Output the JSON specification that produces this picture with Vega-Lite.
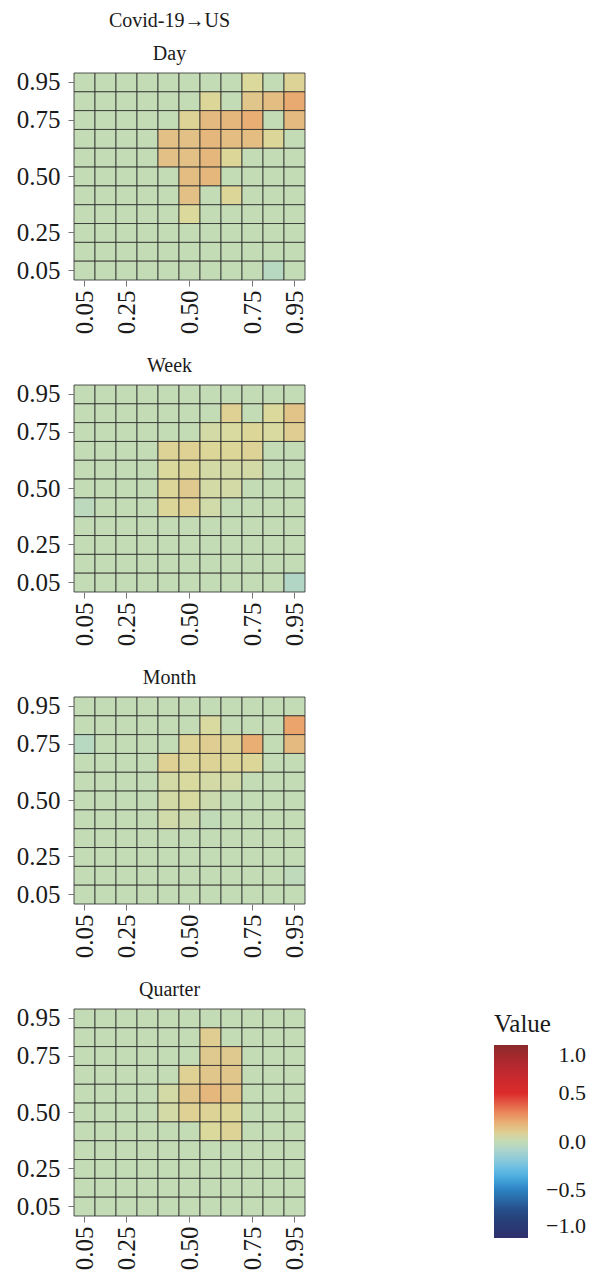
{
"$schema": "https://vega.github.io/schema/vega-lite/v6.json",
"padding": {"left": 16, "top": 10, "right": 0, "bottom": 0},
"config": {
 "font": "Liberation Serif",
 "view": {"stroke": null},
 "axis": {"labelFont": "Liberation Serif", "labelFontSize": 25, "labelColor": "#1a1a1a", "tickColor": "#777", "tickSize": 6, "tickWidth": 1, "domain": false, "grid": false, "title": null},
 "axisX": {"labelPadding": 4},
 "axisY": {"labelPadding": 8},
 "title": {"font": "Liberation Serif", "fontSize": 20, "fontWeight": "normal", "color": "#1a1a1a", "anchor": "middle", "dx": -20, "offset": 6, "subtitleFont": "Liberation Serif", "subtitleFontSize": 20, "subtitleColor": "#1a1a1a", "subtitlePadding": 13},
 "concat": {"spacing": 21}
},
"datasets": {
"day": [
{"x":0.05,"y":0.95,"v":0},{"x":0.15,"y":0.95,"v":0},{"x":0.25,"y":0.95,"v":0},{"x":0.33,"y":0.95,"v":0},{"x":0.42,"y":0.95,"v":0},{"x":0.5,"y":0.95,"v":0},{"x":0.58,"y":0.95,"v":0},{"x":0.67,"y":0.95,"v":0},{"x":0.75,"y":0.95,"v":0.06},{"x":0.85,"y":0.95,"v":0},{"x":0.95,"y":0.95,"v":0.08},
{"x":0.05,"y":0.85,"v":0},{"x":0.15,"y":0.85,"v":0},{"x":0.25,"y":0.85,"v":0},{"x":0.33,"y":0.85,"v":0},{"x":0.42,"y":0.85,"v":0},{"x":0.5,"y":0.85,"v":0},{"x":0.58,"y":0.85,"v":0.07},{"x":0.67,"y":0.85,"v":0},{"x":0.75,"y":0.85,"v":0.12},{"x":0.85,"y":0.85,"v":0.15},{"x":0.95,"y":0.85,"v":0.21},
{"x":0.05,"y":0.75,"v":0},{"x":0.15,"y":0.75,"v":0},{"x":0.25,"y":0.75,"v":0},{"x":0.33,"y":0.75,"v":0},{"x":0.42,"y":0.75,"v":0},{"x":0.5,"y":0.75,"v":0.08},{"x":0.58,"y":0.75,"v":0.16},{"x":0.67,"y":0.75,"v":0.17},{"x":0.75,"y":0.75,"v":0.2},{"x":0.85,"y":0.75,"v":0},{"x":0.95,"y":0.75,"v":0.16},
{"x":0.05,"y":0.67,"v":0},{"x":0.15,"y":0.67,"v":0},{"x":0.25,"y":0.67,"v":0},{"x":0.33,"y":0.67,"v":0},{"x":0.42,"y":0.67,"v":0.14},{"x":0.5,"y":0.67,"v":0.14},{"x":0.58,"y":0.67,"v":0.17},{"x":0.67,"y":0.67,"v":0.15},{"x":0.75,"y":0.67,"v":0.15},{"x":0.85,"y":0.67,"v":0.07},{"x":0.95,"y":0.67,"v":0},
{"x":0.05,"y":0.58,"v":0},{"x":0.15,"y":0.58,"v":0},{"x":0.25,"y":0.58,"v":0},{"x":0.33,"y":0.58,"v":0},{"x":0.42,"y":0.58,"v":0.14},{"x":0.5,"y":0.58,"v":0.14},{"x":0.58,"y":0.58,"v":0.17},{"x":0.67,"y":0.58,"v":0.07},{"x":0.75,"y":0.58,"v":0},{"x":0.85,"y":0.58,"v":0},{"x":0.95,"y":0.58,"v":0},
{"x":0.05,"y":0.5,"v":0},{"x":0.15,"y":0.5,"v":0},{"x":0.25,"y":0.5,"v":0},{"x":0.33,"y":0.5,"v":0},{"x":0.42,"y":0.5,"v":0},{"x":0.5,"y":0.5,"v":0.15},{"x":0.58,"y":0.5,"v":0.17},{"x":0.67,"y":0.5,"v":0},{"x":0.75,"y":0.5,"v":0},{"x":0.85,"y":0.5,"v":0},{"x":0.95,"y":0.5,"v":0},
{"x":0.05,"y":0.42,"v":0},{"x":0.15,"y":0.42,"v":0},{"x":0.25,"y":0.42,"v":0},{"x":0.33,"y":0.42,"v":0},{"x":0.42,"y":0.42,"v":0},{"x":0.5,"y":0.42,"v":0.14},{"x":0.58,"y":0.42,"v":0},{"x":0.67,"y":0.42,"v":0.07},{"x":0.75,"y":0.42,"v":0},{"x":0.85,"y":0.42,"v":0},{"x":0.95,"y":0.42,"v":0},
{"x":0.05,"y":0.33,"v":0},{"x":0.15,"y":0.33,"v":0},{"x":0.25,"y":0.33,"v":0},{"x":0.33,"y":0.33,"v":0},{"x":0.42,"y":0.33,"v":0},{"x":0.5,"y":0.33,"v":0.06},{"x":0.58,"y":0.33,"v":0},{"x":0.67,"y":0.33,"v":0},{"x":0.75,"y":0.33,"v":0},{"x":0.85,"y":0.33,"v":0},{"x":0.95,"y":0.33,"v":0},
{"x":0.05,"y":0.25,"v":0},{"x":0.15,"y":0.25,"v":0},{"x":0.25,"y":0.25,"v":0},{"x":0.33,"y":0.25,"v":0},{"x":0.42,"y":0.25,"v":0},{"x":0.5,"y":0.25,"v":0},{"x":0.58,"y":0.25,"v":0},{"x":0.67,"y":0.25,"v":0},{"x":0.75,"y":0.25,"v":0},{"x":0.85,"y":0.25,"v":0},{"x":0.95,"y":0.25,"v":0},
{"x":0.05,"y":0.15,"v":0},{"x":0.15,"y":0.15,"v":0},{"x":0.25,"y":0.15,"v":0},{"x":0.33,"y":0.15,"v":0},{"x":0.42,"y":0.15,"v":0},{"x":0.5,"y":0.15,"v":0},{"x":0.58,"y":0.15,"v":0},{"x":0.67,"y":0.15,"v":0},{"x":0.75,"y":0.15,"v":0},{"x":0.85,"y":0.15,"v":0},{"x":0.95,"y":0.15,"v":0},
{"x":0.05,"y":0.05,"v":0},{"x":0.15,"y":0.05,"v":0},{"x":0.25,"y":0.05,"v":0},{"x":0.33,"y":0.05,"v":0},{"x":0.42,"y":0.05,"v":0},{"x":0.5,"y":0.05,"v":0},{"x":0.58,"y":0.05,"v":0},{"x":0.67,"y":0.05,"v":0},{"x":0.75,"y":0.05,"v":0},{"x":0.85,"y":0.05,"v":-0.05},{"x":0.95,"y":0.05,"v":0}
],
"week": [
{"x":0.05,"y":0.95,"v":0},{"x":0.15,"y":0.95,"v":0},{"x":0.25,"y":0.95,"v":0},{"x":0.33,"y":0.95,"v":0},{"x":0.42,"y":0.95,"v":0},{"x":0.5,"y":0.95,"v":0},{"x":0.58,"y":0.95,"v":0},{"x":0.67,"y":0.95,"v":0},{"x":0.75,"y":0.95,"v":0},{"x":0.85,"y":0.95,"v":0},{"x":0.95,"y":0.95,"v":0},
{"x":0.05,"y":0.85,"v":0},{"x":0.15,"y":0.85,"v":0},{"x":0.25,"y":0.85,"v":0},{"x":0.33,"y":0.85,"v":0},{"x":0.42,"y":0.85,"v":0},{"x":0.5,"y":0.85,"v":0},{"x":0.58,"y":0.85,"v":0},{"x":0.67,"y":0.85,"v":0.09},{"x":0.75,"y":0.85,"v":0},{"x":0.85,"y":0.85,"v":0.06},{"x":0.95,"y":0.85,"v":0.13},
{"x":0.05,"y":0.75,"v":0},{"x":0.15,"y":0.75,"v":0},{"x":0.25,"y":0.75,"v":0},{"x":0.33,"y":0.75,"v":0},{"x":0.42,"y":0.75,"v":0},{"x":0.5,"y":0.75,"v":0},{"x":0.58,"y":0.75,"v":0.04},{"x":0.67,"y":0.75,"v":0.05},{"x":0.75,"y":0.75,"v":0.07},{"x":0.85,"y":0.75,"v":0.05},{"x":0.95,"y":0.75,"v":0.1},
{"x":0.05,"y":0.67,"v":0},{"x":0.15,"y":0.67,"v":0},{"x":0.25,"y":0.67,"v":0},{"x":0.33,"y":0.67,"v":0},{"x":0.42,"y":0.67,"v":0.08},{"x":0.5,"y":0.67,"v":0.09},{"x":0.58,"y":0.67,"v":0.07},{"x":0.67,"y":0.67,"v":0.07},{"x":0.75,"y":0.67,"v":0.08},{"x":0.85,"y":0.67,"v":0},{"x":0.95,"y":0.67,"v":0},
{"x":0.05,"y":0.58,"v":0},{"x":0.15,"y":0.58,"v":0},{"x":0.25,"y":0.58,"v":0},{"x":0.33,"y":0.58,"v":0},{"x":0.42,"y":0.58,"v":0.06},{"x":0.5,"y":0.58,"v":0.07},{"x":0.58,"y":0.58,"v":0.04},{"x":0.67,"y":0.58,"v":0.04},{"x":0.75,"y":0.58,"v":0.04},{"x":0.85,"y":0.58,"v":0},{"x":0.95,"y":0.58,"v":0},
{"x":0.05,"y":0.5,"v":0},{"x":0.15,"y":0.5,"v":0},{"x":0.25,"y":0.5,"v":0},{"x":0.33,"y":0.5,"v":0},{"x":0.42,"y":0.5,"v":0.07},{"x":0.5,"y":0.5,"v":0.11},{"x":0.58,"y":0.5,"v":0.04},{"x":0.67,"y":0.5,"v":0.04},{"x":0.75,"y":0.5,"v":0},{"x":0.85,"y":0.5,"v":0},{"x":0.95,"y":0.5,"v":0},
{"x":0.05,"y":0.42,"v":-0.03},{"x":0.15,"y":0.42,"v":0},{"x":0.25,"y":0.42,"v":0},{"x":0.33,"y":0.42,"v":0},{"x":0.42,"y":0.42,"v":0.07},{"x":0.5,"y":0.42,"v":0.09},{"x":0.58,"y":0.42,"v":0.03},{"x":0.67,"y":0.42,"v":0},{"x":0.75,"y":0.42,"v":0},{"x":0.85,"y":0.42,"v":0},{"x":0.95,"y":0.42,"v":0},
{"x":0.05,"y":0.33,"v":0},{"x":0.15,"y":0.33,"v":0},{"x":0.25,"y":0.33,"v":0},{"x":0.33,"y":0.33,"v":0},{"x":0.42,"y":0.33,"v":0},{"x":0.5,"y":0.33,"v":0},{"x":0.58,"y":0.33,"v":0},{"x":0.67,"y":0.33,"v":0},{"x":0.75,"y":0.33,"v":0},{"x":0.85,"y":0.33,"v":0},{"x":0.95,"y":0.33,"v":0},
{"x":0.05,"y":0.25,"v":0},{"x":0.15,"y":0.25,"v":0},{"x":0.25,"y":0.25,"v":0},{"x":0.33,"y":0.25,"v":0},{"x":0.42,"y":0.25,"v":0},{"x":0.5,"y":0.25,"v":0},{"x":0.58,"y":0.25,"v":0},{"x":0.67,"y":0.25,"v":0},{"x":0.75,"y":0.25,"v":0},{"x":0.85,"y":0.25,"v":0},{"x":0.95,"y":0.25,"v":0},
{"x":0.05,"y":0.15,"v":0},{"x":0.15,"y":0.15,"v":0},{"x":0.25,"y":0.15,"v":0},{"x":0.33,"y":0.15,"v":0},{"x":0.42,"y":0.15,"v":0},{"x":0.5,"y":0.15,"v":0},{"x":0.58,"y":0.15,"v":0},{"x":0.67,"y":0.15,"v":0},{"x":0.75,"y":0.15,"v":0},{"x":0.85,"y":0.15,"v":0},{"x":0.95,"y":0.15,"v":0},
{"x":0.05,"y":0.05,"v":0},{"x":0.15,"y":0.05,"v":0},{"x":0.25,"y":0.05,"v":0},{"x":0.33,"y":0.05,"v":0},{"x":0.42,"y":0.05,"v":0},{"x":0.5,"y":0.05,"v":0},{"x":0.58,"y":0.05,"v":0},{"x":0.67,"y":0.05,"v":0},{"x":0.75,"y":0.05,"v":0},{"x":0.85,"y":0.05,"v":0},{"x":0.95,"y":0.05,"v":-0.07}
],
"month": [
{"x":0.05,"y":0.95,"v":0},{"x":0.15,"y":0.95,"v":0},{"x":0.25,"y":0.95,"v":0},{"x":0.33,"y":0.95,"v":0},{"x":0.42,"y":0.95,"v":0},{"x":0.5,"y":0.95,"v":0},{"x":0.58,"y":0.95,"v":0},{"x":0.67,"y":0.95,"v":0},{"x":0.75,"y":0.95,"v":0},{"x":0.85,"y":0.95,"v":0},{"x":0.95,"y":0.95,"v":0},
{"x":0.05,"y":0.85,"v":0},{"x":0.15,"y":0.85,"v":0},{"x":0.25,"y":0.85,"v":0},{"x":0.33,"y":0.85,"v":0},{"x":0.42,"y":0.85,"v":0},{"x":0.5,"y":0.85,"v":0},{"x":0.58,"y":0.85,"v":0.05},{"x":0.67,"y":0.85,"v":0},{"x":0.75,"y":0.85,"v":0},{"x":0.85,"y":0.85,"v":0},{"x":0.95,"y":0.85,"v":0.23},
{"x":0.05,"y":0.75,"v":-0.05},{"x":0.15,"y":0.75,"v":0},{"x":0.25,"y":0.75,"v":0},{"x":0.33,"y":0.75,"v":0},{"x":0.42,"y":0.75,"v":0},{"x":0.5,"y":0.75,"v":0.08},{"x":0.58,"y":0.75,"v":0.1},{"x":0.67,"y":0.75,"v":0.08},{"x":0.75,"y":0.75,"v":0.2},{"x":0.85,"y":0.75,"v":0},{"x":0.95,"y":0.75,"v":0.16},
{"x":0.05,"y":0.67,"v":0},{"x":0.15,"y":0.67,"v":0},{"x":0.25,"y":0.67,"v":0},{"x":0.33,"y":0.67,"v":0},{"x":0.42,"y":0.67,"v":0.09},{"x":0.5,"y":0.67,"v":0.07},{"x":0.58,"y":0.67,"v":0.08},{"x":0.67,"y":0.67,"v":0.07},{"x":0.75,"y":0.67,"v":0.07},{"x":0.85,"y":0.67,"v":0},{"x":0.95,"y":0.67,"v":0},
{"x":0.05,"y":0.58,"v":0},{"x":0.15,"y":0.58,"v":0},{"x":0.25,"y":0.58,"v":0},{"x":0.33,"y":0.58,"v":0},{"x":0.42,"y":0.58,"v":0.04},{"x":0.5,"y":0.58,"v":0.05},{"x":0.58,"y":0.58,"v":0.04},{"x":0.67,"y":0.58,"v":0.03},{"x":0.75,"y":0.58,"v":0},{"x":0.85,"y":0.58,"v":0},{"x":0.95,"y":0.58,"v":0},
{"x":0.05,"y":0.5,"v":0},{"x":0.15,"y":0.5,"v":0},{"x":0.25,"y":0.5,"v":0},{"x":0.33,"y":0.5,"v":0},{"x":0.42,"y":0.5,"v":0.04},{"x":0.5,"y":0.5,"v":0.05},{"x":0.58,"y":0.5,"v":0.02},{"x":0.67,"y":0.5,"v":0},{"x":0.75,"y":0.5,"v":0},{"x":0.85,"y":0.5,"v":0},{"x":0.95,"y":0.5,"v":0},
{"x":0.05,"y":0.42,"v":0},{"x":0.15,"y":0.42,"v":0},{"x":0.25,"y":0.42,"v":0},{"x":0.33,"y":0.42,"v":0},{"x":0.42,"y":0.42,"v":0.03},{"x":0.5,"y":0.42,"v":0.02},{"x":0.58,"y":0.42,"v":-0.01},{"x":0.67,"y":0.42,"v":0},{"x":0.75,"y":0.42,"v":0},{"x":0.85,"y":0.42,"v":0},{"x":0.95,"y":0.42,"v":0},
{"x":0.05,"y":0.33,"v":0},{"x":0.15,"y":0.33,"v":0},{"x":0.25,"y":0.33,"v":0},{"x":0.33,"y":0.33,"v":0},{"x":0.42,"y":0.33,"v":0},{"x":0.5,"y":0.33,"v":0},{"x":0.58,"y":0.33,"v":0},{"x":0.67,"y":0.33,"v":0},{"x":0.75,"y":0.33,"v":0},{"x":0.85,"y":0.33,"v":0},{"x":0.95,"y":0.33,"v":0},
{"x":0.05,"y":0.25,"v":0},{"x":0.15,"y":0.25,"v":0},{"x":0.25,"y":0.25,"v":0},{"x":0.33,"y":0.25,"v":0},{"x":0.42,"y":0.25,"v":0},{"x":0.5,"y":0.25,"v":0},{"x":0.58,"y":0.25,"v":0},{"x":0.67,"y":0.25,"v":0},{"x":0.75,"y":0.25,"v":0},{"x":0.85,"y":0.25,"v":0},{"x":0.95,"y":0.25,"v":0},
{"x":0.05,"y":0.15,"v":0},{"x":0.15,"y":0.15,"v":0},{"x":0.25,"y":0.15,"v":0},{"x":0.33,"y":0.15,"v":0},{"x":0.42,"y":0.15,"v":0},{"x":0.5,"y":0.15,"v":0},{"x":0.58,"y":0.15,"v":0},{"x":0.67,"y":0.15,"v":0},{"x":0.75,"y":0.15,"v":0},{"x":0.85,"y":0.15,"v":0},{"x":0.95,"y":0.15,"v":-0.02},
{"x":0.05,"y":0.05,"v":0},{"x":0.15,"y":0.05,"v":0},{"x":0.25,"y":0.05,"v":0},{"x":0.33,"y":0.05,"v":0},{"x":0.42,"y":0.05,"v":0},{"x":0.5,"y":0.05,"v":0},{"x":0.58,"y":0.05,"v":0},{"x":0.67,"y":0.05,"v":0},{"x":0.75,"y":0.05,"v":0},{"x":0.85,"y":0.05,"v":0},{"x":0.95,"y":0.05,"v":0}
],
"quarter": [
{"x":0.05,"y":0.95,"v":0},{"x":0.15,"y":0.95,"v":0},{"x":0.25,"y":0.95,"v":0},{"x":0.33,"y":0.95,"v":0},{"x":0.42,"y":0.95,"v":0},{"x":0.5,"y":0.95,"v":0},{"x":0.58,"y":0.95,"v":0},{"x":0.67,"y":0.95,"v":0},{"x":0.75,"y":0.95,"v":0},{"x":0.85,"y":0.95,"v":0},{"x":0.95,"y":0.95,"v":0},
{"x":0.05,"y":0.85,"v":0},{"x":0.15,"y":0.85,"v":0},{"x":0.25,"y":0.85,"v":0},{"x":0.33,"y":0.85,"v":0},{"x":0.42,"y":0.85,"v":0},{"x":0.5,"y":0.85,"v":0},{"x":0.58,"y":0.85,"v":0.1},{"x":0.67,"y":0.85,"v":0},{"x":0.75,"y":0.85,"v":0},{"x":0.85,"y":0.85,"v":0},{"x":0.95,"y":0.85,"v":0},
{"x":0.05,"y":0.75,"v":0},{"x":0.15,"y":0.75,"v":0},{"x":0.25,"y":0.75,"v":0},{"x":0.33,"y":0.75,"v":0},{"x":0.42,"y":0.75,"v":0},{"x":0.5,"y":0.75,"v":0},{"x":0.58,"y":0.75,"v":0.11},{"x":0.67,"y":0.75,"v":0.11},{"x":0.75,"y":0.75,"v":0},{"x":0.85,"y":0.75,"v":0},{"x":0.95,"y":0.75,"v":0},
{"x":0.05,"y":0.67,"v":0},{"x":0.15,"y":0.67,"v":0},{"x":0.25,"y":0.67,"v":0},{"x":0.33,"y":0.67,"v":0},{"x":0.42,"y":0.67,"v":0},{"x":0.5,"y":0.67,"v":0.09},{"x":0.58,"y":0.67,"v":0.12},{"x":0.67,"y":0.67,"v":0.12},{"x":0.75,"y":0.67,"v":0},{"x":0.85,"y":0.67,"v":0},{"x":0.95,"y":0.67,"v":0},
{"x":0.05,"y":0.58,"v":0},{"x":0.15,"y":0.58,"v":0},{"x":0.25,"y":0.58,"v":0},{"x":0.33,"y":0.58,"v":0},{"x":0.42,"y":0.58,"v":0.04},{"x":0.5,"y":0.58,"v":0.12},{"x":0.58,"y":0.58,"v":0.17},{"x":0.67,"y":0.58,"v":0.13},{"x":0.75,"y":0.58,"v":0},{"x":0.85,"y":0.58,"v":0},{"x":0.95,"y":0.58,"v":0},
{"x":0.05,"y":0.5,"v":0},{"x":0.15,"y":0.5,"v":0},{"x":0.25,"y":0.5,"v":0},{"x":0.33,"y":0.5,"v":0},{"x":0.42,"y":0.5,"v":0.04},{"x":0.5,"y":0.5,"v":0.09},{"x":0.58,"y":0.5,"v":0.08},{"x":0.67,"y":0.5,"v":0.07},{"x":0.75,"y":0.5,"v":0},{"x":0.85,"y":0.5,"v":0},{"x":0.95,"y":0.5,"v":0},
{"x":0.05,"y":0.42,"v":0},{"x":0.15,"y":0.42,"v":0},{"x":0.25,"y":0.42,"v":0},{"x":0.33,"y":0.42,"v":0},{"x":0.42,"y":0.42,"v":0},{"x":0.5,"y":0.42,"v":0},{"x":0.58,"y":0.42,"v":0.06},{"x":0.67,"y":0.42,"v":0.08},{"x":0.75,"y":0.42,"v":0},{"x":0.85,"y":0.42,"v":0},{"x":0.95,"y":0.42,"v":0},
{"x":0.05,"y":0.33,"v":0},{"x":0.15,"y":0.33,"v":0},{"x":0.25,"y":0.33,"v":0},{"x":0.33,"y":0.33,"v":0},{"x":0.42,"y":0.33,"v":0},{"x":0.5,"y":0.33,"v":0},{"x":0.58,"y":0.33,"v":0},{"x":0.67,"y":0.33,"v":0},{"x":0.75,"y":0.33,"v":0},{"x":0.85,"y":0.33,"v":0},{"x":0.95,"y":0.33,"v":0},
{"x":0.05,"y":0.25,"v":0},{"x":0.15,"y":0.25,"v":0},{"x":0.25,"y":0.25,"v":0},{"x":0.33,"y":0.25,"v":0},{"x":0.42,"y":0.25,"v":0},{"x":0.5,"y":0.25,"v":0},{"x":0.58,"y":0.25,"v":0},{"x":0.67,"y":0.25,"v":0},{"x":0.75,"y":0.25,"v":0},{"x":0.85,"y":0.25,"v":0},{"x":0.95,"y":0.25,"v":0},
{"x":0.05,"y":0.15,"v":0},{"x":0.15,"y":0.15,"v":0},{"x":0.25,"y":0.15,"v":0},{"x":0.33,"y":0.15,"v":0},{"x":0.42,"y":0.15,"v":0},{"x":0.5,"y":0.15,"v":0},{"x":0.58,"y":0.15,"v":0},{"x":0.67,"y":0.15,"v":0},{"x":0.75,"y":0.15,"v":0},{"x":0.85,"y":0.15,"v":0},{"x":0.95,"y":0.15,"v":0},
{"x":0.05,"y":0.05,"v":0},{"x":0.15,"y":0.05,"v":0},{"x":0.25,"y":0.05,"v":0},{"x":0.33,"y":0.05,"v":0},{"x":0.42,"y":0.05,"v":0},{"x":0.5,"y":0.05,"v":0},{"x":0.58,"y":0.05,"v":0},{"x":0.67,"y":0.05,"v":0},{"x":0.75,"y":0.05,"v":0},{"x":0.85,"y":0.05,"v":0},{"x":0.95,"y":0.05,"v":0}
]
},
"vconcat": [
 {"title": {"text": "Covid-19→US", "subtitle": "Day"}, "data": {"name": "day"}, "width": 231, "height": 207,
  "mark": {"type": "rect", "stroke": "#2a2a2a", "strokeWidth": 0.8},
  "encoding": {
   "x": {"field": "x", "type": "ordinal", "scale": {"paddingInner": 0, "paddingOuter": 0}, "axis": {"values": [0.05,0.25,0.5,0.75,0.95], "labelExpr": "format(datum.value, '.2f')", "labelAngle": -90}},
   "y": {"field": "y", "type": "ordinal", "sort": "descending", "scale": {"paddingInner": 0, "paddingOuter": 0}, "axis": {"values": [0.05,0.25,0.5,0.75,0.95], "labelExpr": "format(datum.value, '.2f')"}},
   "color": {"field": "v", "type": "quantitative", "scale": {"domain": [-1,-0.75,-0.5,-0.35,-0.15,0,0.06,0.25,0.5,0.75,1], "range": ["#2E2F6B","#24457F","#2D82C1","#4DB3E6","#9CCFD8","#C4DCB6","#DCD99C","#EC9E66","#DC2B2B","#BD2830","#8B2A2A"], "interpolate": "rgb"}, "legend": null}
  }},
 {"title": {"text": "Week"}, "data": {"name": "week"}, "width": 231, "height": 207,
  "mark": {"type": "rect", "stroke": "#2a2a2a", "strokeWidth": 0.8},
  "encoding": {
   "x": {"field": "x", "type": "ordinal", "scale": {"paddingInner": 0, "paddingOuter": 0}, "axis": {"values": [0.05,0.25,0.5,0.75,0.95], "labelExpr": "format(datum.value, '.2f')", "labelAngle": -90}},
   "y": {"field": "y", "type": "ordinal", "sort": "descending", "scale": {"paddingInner": 0, "paddingOuter": 0}, "axis": {"values": [0.05,0.25,0.5,0.75,0.95], "labelExpr": "format(datum.value, '.2f')"}},
   "color": {"field": "v", "type": "quantitative", "scale": {"domain": [-1,-0.75,-0.5,-0.35,-0.15,0,0.06,0.25,0.5,0.75,1], "range": ["#2E2F6B","#24457F","#2D82C1","#4DB3E6","#9CCFD8","#C4DCB6","#DCD99C","#EC9E66","#DC2B2B","#BD2830","#8B2A2A"], "interpolate": "rgb"}, "legend": null}
  }},
 {"title": {"text": "Month"}, "data": {"name": "month"}, "width": 231, "height": 207,
  "mark": {"type": "rect", "stroke": "#2a2a2a", "strokeWidth": 0.8},
  "encoding": {
   "x": {"field": "x", "type": "ordinal", "scale": {"paddingInner": 0, "paddingOuter": 0}, "axis": {"values": [0.05,0.25,0.5,0.75,0.95], "labelExpr": "format(datum.value, '.2f')", "labelAngle": -90}},
   "y": {"field": "y", "type": "ordinal", "sort": "descending", "scale": {"paddingInner": 0, "paddingOuter": 0}, "axis": {"values": [0.05,0.25,0.5,0.75,0.95], "labelExpr": "format(datum.value, '.2f')"}},
   "color": {"field": "v", "type": "quantitative", "scale": {"domain": [-1,-0.75,-0.5,-0.35,-0.15,0,0.06,0.25,0.5,0.75,1], "range": ["#2E2F6B","#24457F","#2D82C1","#4DB3E6","#9CCFD8","#C4DCB6","#DCD99C","#EC9E66","#DC2B2B","#BD2830","#8B2A2A"], "interpolate": "rgb"}, "legend": null}
  }},
 {"title": {"text": "Quarter"}, "data": {"name": "quarter"}, "width": 231, "height": 207,
  "mark": {"type": "rect", "stroke": "#2a2a2a", "strokeWidth": 0.8},
  "encoding": {
   "x": {"field": "x", "type": "ordinal", "scale": {"paddingInner": 0, "paddingOuter": 0}, "axis": {"values": [0.05,0.25,0.5,0.75,0.95], "labelExpr": "format(datum.value, '.2f')", "labelAngle": -90}},
   "y": {"field": "y", "type": "ordinal", "sort": "descending", "scale": {"paddingInner": 0, "paddingOuter": 0}, "axis": {"values": [0.05,0.25,0.5,0.75,0.95], "labelExpr": "format(datum.value, '.2f')"}},
   "color": {"field": "v", "type": "quantitative", "scale": {"domain": [-1,-0.75,-0.5,-0.35,-0.15,0,0.06,0.25,0.5,0.75,1], "range": ["#2E2F6B","#24457F","#2D82C1","#4DB3E6","#9CCFD8","#C4DCB6","#DCD99C","#EC9E66","#DC2B2B","#BD2830","#8B2A2A"], "interpolate": "rgb"},
    "legend": {"type": "gradient", "orient": "none", "legendX": 420, "legendY": 3, "direction": "vertical", "title": "Value", "titleFont": "Liberation Serif", "titleFontSize": 25, "titleFontWeight": "normal", "titleColor": "#1a1a1a", "titlePadding": 8, "gradientLength": 193, "gradientThickness": 34, "gradientStrokeWidth": 0, "labelFont": "Liberation Serif", "labelFontSize": 22, "labelColor": "#1a1a1a", "labelOffset": 58, "values": [1,0.5,0,-0.5,-1], "format": ".1f", "encode": {"labels": {"update": {"align": {"value": "right"}}}}}}
  }}
],
"resolve": {"scale": {"color": "independent"}}
}
